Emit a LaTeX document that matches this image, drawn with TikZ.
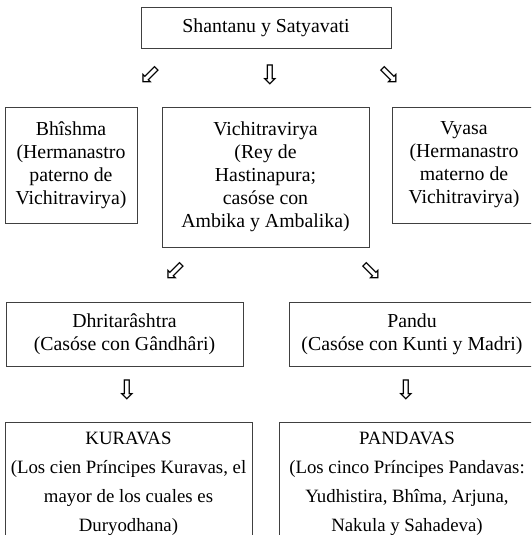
\documentclass[tikz,border=0pt]{standalone}
\usepackage{fontspec}
\setmainfont{Liberation Serif}
\newfontfamily\arrowfont{DejaVu Sans}
\usetikzlibrary{positioning}
\tikzset{
    famblock/.style={
        draw=black!75,
        line width=0.8pt,
        fill=white,
        align=center,
        inner sep=0pt,
        font=\fontsize{19.8}{23}\selectfont
    },
    widelines/.style={
        font=\fontsize{18.8}{29}\selectfont
    },
    whitearrow/.style={
        inner sep=0pt,
        font=\arrowfont\fontsize{27}{27}\selectfont
    }
}

\begin{document}
\begin{tikzpicture}[x=1pt, y=-1pt]
    \useasboundingbox (0,0) rectangle (531,535);
    \clip (0,0) rectangle (531,535);

    % Parents
    \node[famblock, minimum width=250pt, minimum height=41pt] (parents) at (266,27.5) {Shantanu y Satyavati};

    % First arrows
    \node[whitearrow] (arrowL) at (150,75) {⬃};
    \node[whitearrow] (arrowM) at (270,75) {⇩};
    \node[whitearrow] (arrowR) at (389,75) {⬂};

    % Sons of Satyavati
    \node[famblock, minimum width=132pt, minimum height=116pt] (bhishma) at (71,165)
        {Bhîshma\\(Hermanastro\\paterno de\\Vichitravirya)};
    \node[famblock, minimum width=207pt, minimum height=140pt] (vichi) at (265.5,177)
        {Vichitravirya\\(Rey de\\Hastinapura;\\casóse con\\Ambika y Ambalika)};
    \node[famblock, minimum width=144pt, minimum height=116pt] (vyasa) at (464,165)
        {Vyasa\\(Hermanastro\\materno de\\Vichitravirya)};

    % Second arrows
    \node[whitearrow] (arrowDL) at (175,271) {⬃};
    \node[whitearrow] (arrowDR) at (371,271) {⬂};

    % Sons of Vichitravirya
    \node[famblock, minimum width=237pt, minimum height=64pt] (dhrita) at (124.5,334)
        {Dhritarâshtra\\(Casóse con Gândhâri)};
    \node[famblock, minimum width=246pt, minimum height=64pt] (pandu) at (412,334.5)
        {Pandu\\(Casóse con Kunti y Madri)};

    % Third arrows
    \node[whitearrow] (arrowK) at (127,390) {⇩};
    \node[whitearrow] (arrowP) at (406,390) {⇩};

    % Grandsons
    \node[famblock, widelines, minimum width=247pt, minimum height=123pt] (kuravas) at (128.5,483.5)
        {KURAVAS\\(Los cien Príncipes Kuravas, el\\mayor de los cuales es\\Duryodhana)};
    \node[famblock, widelines, minimum width=256pt, minimum height=123pt] (pandavas) at (407,483.5)
        {PANDAVAS\\(Los cinco Príncipes Pandavas:\\Yudhistira, Bhîma, Arjuna,\\Nakula y Sahadeva)};
\end{tikzpicture}
\end{document}
